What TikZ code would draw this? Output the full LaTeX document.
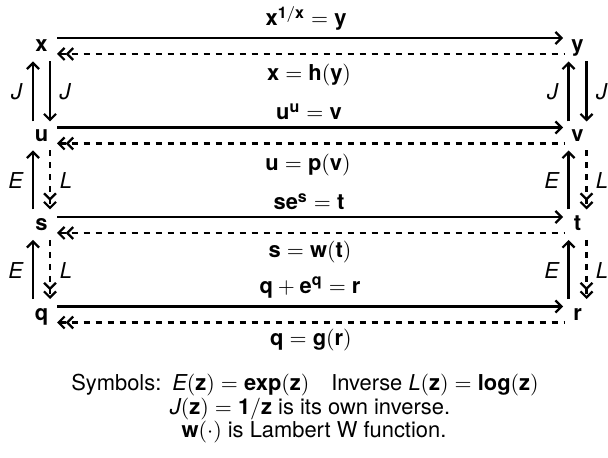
\documentclass[tikz,border=0pt,11pt]{standalone}
\usepackage{amsmath}
\usepackage{fontspec}
\setmainfont{TeX Gyre Heros}
\usetikzlibrary{arrows.meta,calc}
\newcommand{\bs}[1]{\textbf{#1}}
\begin{document}
\begin{tikzpicture}[x=0.5pt,y=-0.5pt,
  nd/.style={inner sep=0pt, text height=1ex, text depth=0pt, font=\bfseries},
  lab/.style={inner sep=0pt, anchor=base},
  foot/.style={inner sep=0pt, anchor=base, text depth=0pt},
  sol/.style={line width=1.1pt},
  das/.style={line width=1.1pt, dash pattern=on 3pt off 3pt},
  >={Straight Barb[length=3pt,width=6pt]}]
\fill[white] (0,0) rectangle (608,458);
\useasboundingbox (0,0) rectangle (608,458);
% nodes
\node[nd] (x) at (41.5,46) {x};
\node[nd] (y) at (577.5,46) {y};
\node[nd] (u) at (41.5,135.5) {u};
\node[nd] (v) at (577.5,135.5) {v};
\node[nd] (s) at (41.5,225) {s};
\node[nd] (t) at (577.5,225) {t};
\node[nd] (q) at (41.5,314.5) {q};
\node[nd] (r) at (577.5,314.5) {r};
% horizontal arrows
\foreach \a/\b in {x/y,u/v,s/t,q/r}{
  \draw[sol,->] ($(\a)+(15.5,-8)$) -- ($(\b)+(-14.5,-8)$);
  \draw[das,<<-] ($(\a)+(15.5,8)$) -- ($(\b)+(-12.5,8)$);
}
% horizontal labels
\node[lab] (l1) at (306,26) {$\bs{x}^{\bs{1}/\bs{x}}=\bs{y}$};
\node[lab] (l2) at (309,81) {$\bs{x}=\bs{h}(\bs{y})$};
\node[lab] (l3) at (309,120) {$\bs{u}^{\bs{u}}=\bs{v}$};
\node[lab] (l4) at (308,171) {$\bs{u}=\bs{p}(\bs{v})$};
\node[lab] (l5) at (309,210) {$\bs{se}^{\bs{s}}=\bs{t}$};
\node[lab] (l6) at (310,258) {$\bs{s}=\bs{w}(\bs{t})$};
\node[lab] (l7) at (310,293) {$\bs{q}+\bs{e}^{\bs{q}}=\bs{r}$};
\node[lab] (l8) at (311,345) {$\bs{q}=\bs{g}(\bs{r})$};
% vertical arrows
\foreach \a/\b/\d in {x/u/8.5,y/v/9}{
  \draw[sol,->] ($(\b)+(-\d,-14)$) -- ($(\a)+(-\d,15.5)$);
  \draw[sol,->] ($(\a)+(\d,15.5)$) -- ($(\b)+(\d,-14)$);
}
\foreach \a/\b/\d in {u/s/8.5,s/q/8.5,v/t/9,t/r/9}{
  \draw[sol,->] ($(\b)+(-\d,-15.5)$) -- ($(\a)+(-\d,15)$);
  \draw[das,->>] ($(\a)+(\d,15)$) -- ($(\b)+(\d,-15.5)$);
}
% vertical labels
\node (j1) at (17,92) {\textit{J}};
\node (j2) at (65.5,92) {\textit{J}};
\node (j3) at (553,92) {\textit{J}};
\node (j4) at (602,92) {\textit{J}};
\node (e1) at (16,181) {\textit{E}};
\node (m1) at (66,181) {\textit{L}};
\node (e2) at (552,181) {\textit{E}};
\node (m2) at (602,181) {\textit{L}};
\node (e3) at (16,271) {\textit{E}};
\node (m3) at (66,271) {\textit{L}};
\node (e4) at (552,271) {\textit{E}};
\node (m4) at (602,271) {\textit{L}};
% bottom text
\node[foot] (t1) at (305,390) {Symbols:\enspace $\textit{E}(\bs{z})=\bs{exp}(\bs{z})$\quad Inverse $\textit{L}(\bs{z})=\bs{log}(\bs{z})$};
\node[foot] (t2) at (310,414) {$\textit{J}(\bs{z})=\bs{1}/\bs{z}$ is its own inverse.};
\node[foot] (t3) at (314,437) {$\bs{w}(\cdot)$ is Lambert W function.};
\end{tikzpicture}
\end{document}
